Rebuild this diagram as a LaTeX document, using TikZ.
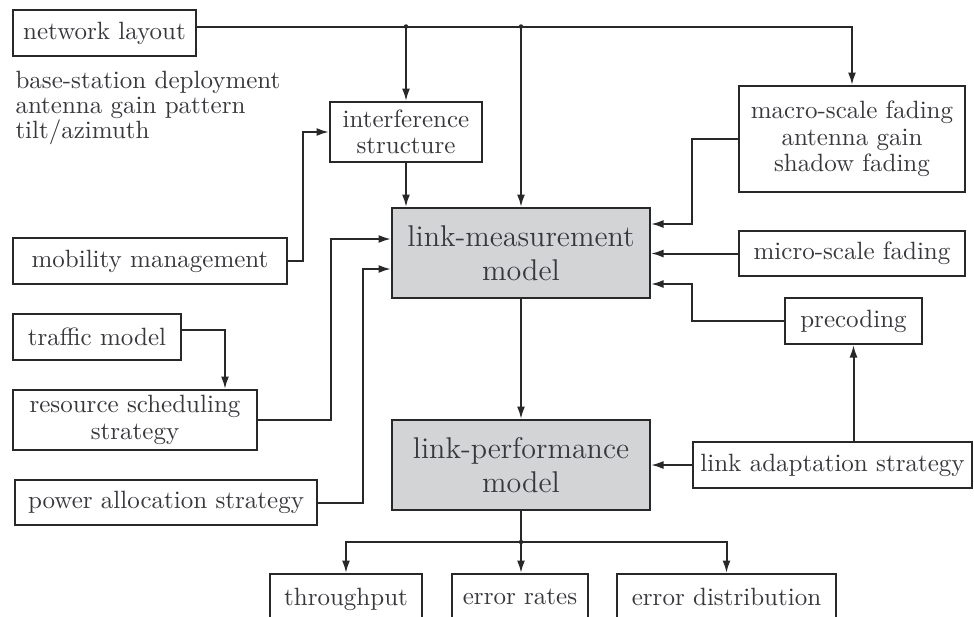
\documentclass[tikz,border=0pt]{standalone}
\usetikzlibrary{arrows.meta}
\definecolor{boxgray}{RGB}{210,212,214}
\definecolor{ink}{RGB}{40,40,40}
\definecolor{txt}{RGB}{55,55,60}
\begin{document}
\begin{tikzpicture}[x=0.4pt,y=-0.4pt,
  sz/.style 2 args={minimum width=#1*0.4pt, minimum height=#2*0.4pt},
  box/.style={draw=ink, line width=0.8pt, inner sep=0pt, align=center, text=txt,
    font=\fontsize{10}{10.5}\selectfont},
  big/.style={box, fill=boxgray, font=\fontsize{12}{13.8}\selectfont},
  note/.style={inner sep=0pt, align=left, text=txt, font=\fontsize{10}{10}\selectfont},
  line/.style={draw=ink, line width=0.8pt},
  arr/.style={line, -{Latex[length=5pt,width=3.2pt]}},
  dot/.style={fill=ink}]
\useasboundingbox[fill=white] (0,0) rectangle (974,616);

\node[box, sz={183}{46}] (net) at (104.5,33) {network layout};
\node[note, anchor=north west] (ann) at (15,71) {base-station deployment\\antenna gain pattern\\tilt/azimuth};
\node[box, sz={152}{60}] (intf) at (406,132) {interference\\structure};
\node[box, sz={226}{106}] (macro) at (852,139) {macro-scale fading\\antenna gain\\shadow fading};
\node[big, sz={258}{90}] (lm) at (521,253) {link-measurement\\model};
\node[box, sz={274}{46}] (mob) at (150,261) {mobility management};
\node[box, sz={226}{45}] (micro) at (852,253.5) {micro-scale fading};
\node[box, sz={168}{46}] (traf) at (97,337) {traffic model};
\node[box, sz={137}{46}] (prec) at (853.5,321) {precoding};
\node[box, sz={244}{60}] (res) at (135,420) {resource scheduling\\strategy};
\node[big, sz={258}{90}] (lp) at (521,465) {link-performance\\model};
\node[box, sz={279}{46}] (la) at (832.5,465) {link adaptation strategy};
\node[box, sz={302}{45}] (pow) at (166,502.5) {power allocation strategy};
\node[box, sz={152}{46}, text depth=0pt] (tp) at (346,597) {throughput};
\node[box, sz={136}{46}] (er) at (520,597) {error rates};
\node[box, sz={219}{46}] (ed) at (726.5,597) {error distribution};

% network layout distribution line
\coordinate (nl) at ([yshift=2.6pt]net.east);
\coordinate (j1) at (nl -| intf.north);
\coordinate (j2) at (nl -| lm.north);
\draw[arr] (nl) -| (macro.north);
\draw[arr] (j1) -- (intf.north);
\draw[arr] (j2) -- (lm.north);
\fill[dot] (j1) circle[radius=0.9pt];
\fill[dot] (j2) circle[radius=0.9pt];

\draw[arr] (intf.south) -- (intf.south |- lm.north);
\draw[arr] (mob.east) -- ++(15,0) |- (intf.west);
\draw[arr] (macro.west) -- ++(-46,0) |- ([yshift=11.6pt]lm.east);
\draw[arr] (micro.west) -- (micro.west -| lm.east);
\draw[arr] (prec.west) -- ++(-92,0) |- ([yshift=-12.4pt]lm.east);
\draw[arr] (la.west) -- (lp.east);
\draw[arr] (la.north -| prec.south) -- (prec.south);
\draw[arr] ([yshift=2.8pt]traf.east) -| ([xshift=36pt]res.north);
\draw[arr] (res.east) -- ++(73,0) |- ([yshift=5.6pt]lm.west);
\draw[arr] (pow.east) -- ++(45,0) |- ([yshift=-6.4pt]lm.west);
\draw[arr] (lm.south) -- (lp.north);

\coordinate (bj) at (lp.south |- 0,542);
\draw[line] (lp.south) -- (bj);
\draw[arr] (bj) -| (tp.north);
\draw[arr] (bj) -- (er.north -| bj);
\draw[arr] (bj) -| (ed.north);
\fill[dot] (bj) circle[radius=0.9pt];
\end{tikzpicture}
\end{document}
